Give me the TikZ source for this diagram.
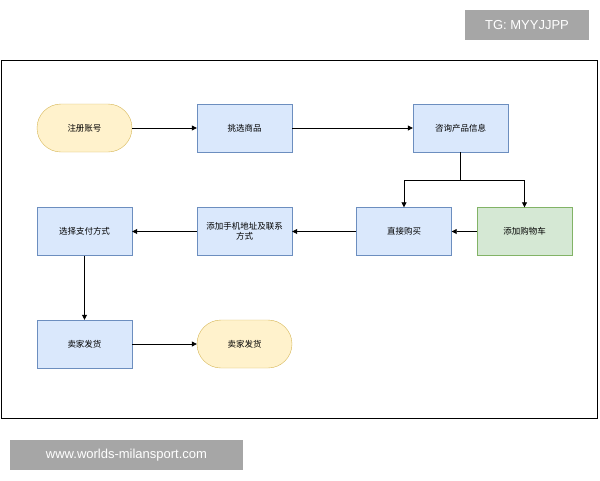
\documentclass[tikz,border=0pt]{standalone}
\usepackage{fontspec}
\setmainfont{Liberation Sans}
\newfontfamily\cjk{Noto Sans CJK SC}
\usetikzlibrary{arrows.meta}
\definecolor{bfill}{HTML}{DAE8FC}\definecolor{bline}{HTML}{6C8EBF}
\definecolor{yfill}{HTML}{FFF2CC}\definecolor{yline}{HTML}{D6B656}
\definecolor{gfill}{HTML}{D5E8D4}\definecolor{gline}{HTML}{82B366}
\definecolor{tag}{HTML}{A6A6A6}
\begin{document}
\begin{tikzpicture}[x=1pt,y=-1pt,
 box/.style={draw=bline,fill=bfill,minimum width=95pt,minimum height=48pt,inner sep=2pt,font=\cjk\fontsize{8.5}{10}\selectfont,align=center,text width=90pt},
 pill/.style={box,draw=yline,fill=yfill,rounded corners=24pt},
 grn/.style={box,draw=gline,fill=gfill},
 arr/.style={-{Triangle[length=5pt,width=5pt]},line width=0.8pt},
 tagst/.style={fill=tag,text=white,inner sep=0pt,font=\fontsize{13}{15}\selectfont}]
\useasboundingbox (0,0) rectangle (600,480);
\draw[line width=0.8pt] (1,60) rectangle (597,418);
\node[tagst,minimum width=124pt,minimum height=30pt] (tg) at (527,25) {TG: MYYJJPP};
\node[tagst,minimum width=233pt,minimum height=30pt] (wm) at (126.5,455) {www.worlds-milansport.com};
\node[pill] (a) at (84.5,128) {注册账号};
\node[box] (b) at (244.5,128) {挑选商品};
\node[box] (c) at (460.5,128) {咨询产品信息};
\node[box] (d) at (404,231.5) {直接购买};
\node[grn] (e) at (524.5,231.5) {添加购物车};
\node[box] (f) at (244.5,231.5) {添加手机地址及联系\\方式};
\node[box] (g) at (84.5,231.5) {选择支付方式};
\node[box] (h) at (84.5,344) {卖家发货};
\node[pill] (i) at (244.5,344) {卖家发货};
\coordinate (s) at (460.5,180);
\draw[arr] (a) -- (b);
\draw[arr] (b) -- (c);
\draw[line width=0.8pt] (c) -- (s);
\draw[arr] (s) -| (d);
\draw[arr] (s) -| (e);
\draw[arr] (e) -- (d);
\draw[arr] (d) -- (f);
\draw[arr] (f) -- (g);
\draw[arr] (g) -- (h);
\draw[arr] (h) -- (i);
\end{tikzpicture}
\end{document}
